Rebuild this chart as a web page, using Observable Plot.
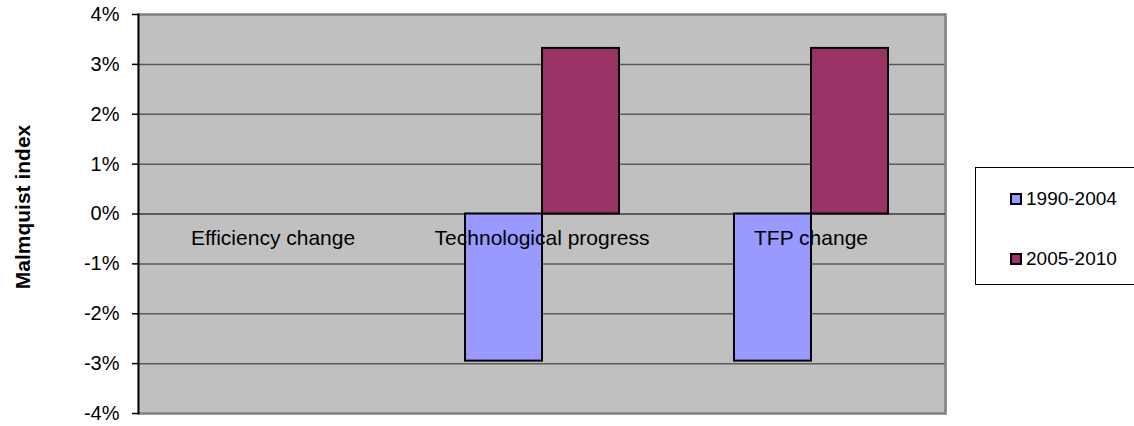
<!DOCTYPE html>
<html>
<head>
<meta charset="utf-8">
<script src="https://cdn.jsdelivr.net/npm/d3@7"></script>
<script src="https://cdn.jsdelivr.net/npm/@observablehq/plot@0.6"></script>
<style>
  html, body { margin: 0; padding: 0; background: #fff; overflow: hidden; }
  #wrap { position: relative; width: 1134px; height: 426px; font-family: "Liberation Sans", Arial, sans-serif; }
  #ylabel { position: absolute; left: 23px; top: 207px; transform: translate(-50%, -50%) rotate(-90deg); font-weight: bold; font-size: 21px; white-space: nowrap; color: #000; }
  #legend { position: absolute; left: 975px; top: 167px; width: 170px; height: 118px; border: 1px solid #000; background: #fff; box-sizing: border-box; }
  .item { position: absolute; left: 34px; font-size: 19px; line-height: 20px; display: flex; align-items: center; color: #000; }
  .sw { width: 8px; height: 8px; border: 2px solid #000; margin-right: 4px; }
</style>
</head>
<body>
<div id="wrap">
  <div id="chart"></div>
  <div id="ylabel">Malmquist index</div>
  <div id="legend"></div>
</div>
<script>
const categories = ["Efficiency change", "Technological progress", "TFP change"];
const seriesNames = ["1990-2004", "2005-2010"];
const colors = ["#9999FF", "#993366"];
const values1990 = [0, -0.0295, -0.0295];
const values2005 = [0, 0.0332, 0.0332];
const yTicks = [-0.04, -0.03, -0.02, -0.01, 0, 0.01, 0.02, 0.03, 0.04];

const data = [];
categories.forEach((c, i) => {
  data.push({cat: c, series: seriesNames[0], value: values1990[i]});
  data.push({cat: c, series: seriesNames[1], value: values2005[i]});
});

const pct = d => Math.round(d * 100) + "%";

const chart = Plot.plot({
  width: 1134,
  height: 426,
  marginLeft: 137,
  marginRight: 189,
  marginTop: 14,
  marginBottom: 13,
  style: {fontFamily: "'Liberation Sans', Arial, sans-serif", background: "transparent"},
  fx: {domain: categories, padding: 0, axis: null, label: null},
  x: {domain: seriesNames, paddingInner: 0, paddingOuter: 0.745, axis: null, label: null},
  y: {domain: [-0.04, 0.04], axis: null, label: null},
  color: {domain: seriesNames, range: colors},
  marks: [
    Plot.frame({fill: "#c0c0c0", stroke: null, insetLeft: -1, insetRight: -1}),
    Plot.ruleY(yTicks.filter(d => d !== 0 && Math.abs(d) < 0.04), {y: d => d, stroke: "#5a5a5a", strokeWidth: 1.5}),
    Plot.ruleY([0.04, -0.04], {y: d => d, stroke: "#808080", strokeWidth: 2.5}),
    Plot.frame({anchor: "right", facetAnchor: "right", stroke: "#808080", strokeWidth: 2.5}),
    Plot.ruleY([0], {y: d => d, stroke: "#3a3a3a", strokeWidth: 1.5}),
    Plot.barY(data, {filter: d => d.value !== 0, fx: "cat", x: "series", y: "value", fill: "series", stroke: "#000", strokeWidth: 2}),
    Plot.text(categories, {fx: d => d, y: () => 0, text: d => d, dy: 24, fontSize: 21, fill: "#000"}),
    Plot.frame({anchor: "left", facetAnchor: "left", stroke: "#000", strokeWidth: 2}),
    Plot.axisY({ticks: yTicks, tickFormat: pct, tickSize: 6, tickPadding: 13, fontSize: 20, label: null, stroke: "#000", strokeWidth: 1.5, color: "#000", facetAnchor: "left"})
  ]
});
document.getElementById("chart").appendChild(chart);

const legend = document.getElementById("legend");
seriesNames.forEach((s, i) => {
  const it = document.createElement("div");
  it.className = "item";
  it.style.top = (21 + i * 60) + "px";
  const sw = document.createElement("span");
  sw.className = "sw";
  sw.style.background = colors[i];
  const t = document.createElement("span");
  t.textContent = s;
  it.appendChild(sw);
  it.appendChild(t);
  legend.appendChild(it);
});
</script>
</body>
</html>
